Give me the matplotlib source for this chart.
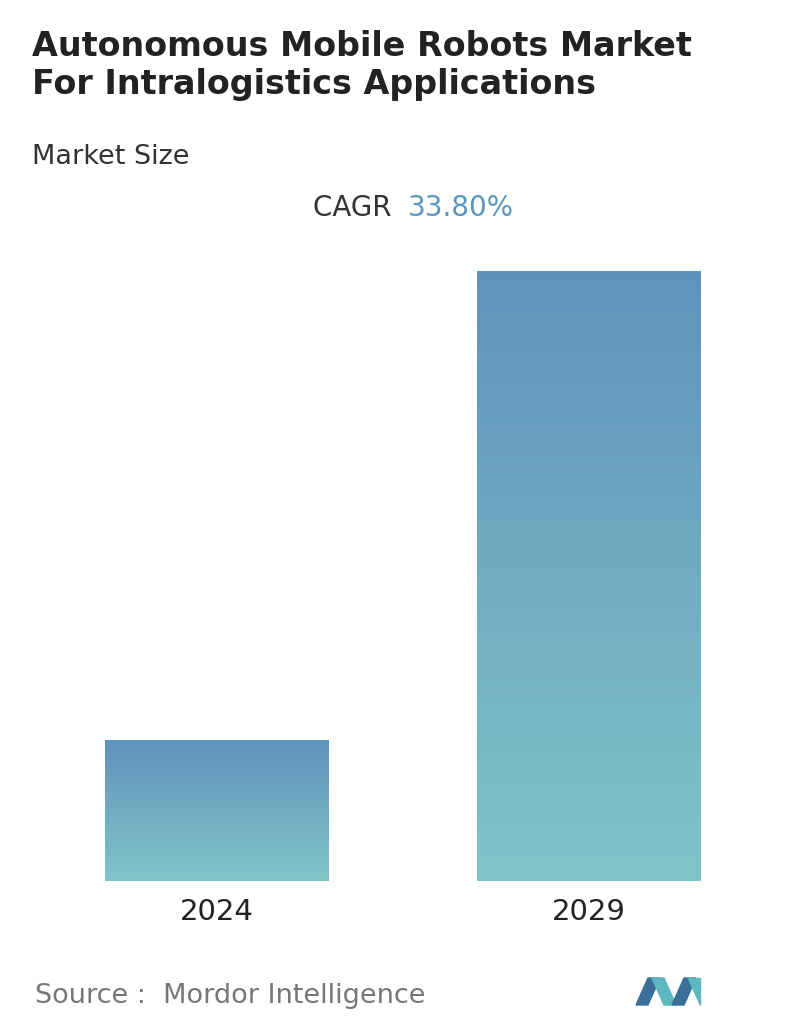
import numpy as np
import matplotlib
matplotlib.use("Agg")
import matplotlib.pyplot as plt
from matplotlib.patches import Polygon
from matplotlib.colors import LinearSegmentedColormap

years = ["2024", "2029"]
market_size = [1.0, 4.33]  # relative

W, H = 796, 1034
fig = plt.figure(figsize=(W / 100, H / 100), dpi=100)
fig.patch.set_facecolor("white")

ax = fig.add_axes([0, 1 - 881 / H, 1, (881 - 271) / H])
ax.axis("off")

cmap = LinearSegmentedColormap.from_list("grad", ["#80c4c9", "#6093bb"])
grad = np.linspace(0, 1, 256).reshape(-1, 1)
bars = ax.bar(range(len(years)), market_size, width=0.6, color="none")
for b in bars:
    x0, y0, w, h = b.get_x(), b.get_y(), b.get_width(), b.get_height()
    im = ax.imshow(grad, cmap=cmap, origin="lower", aspect="auto",
                   extent=[x0, x0 + w, y0, y0 + h], zorder=1)
    im.set_clip_path(b)
ax.set_xlim(-0.581, 1.555)
ax.set_ylim(0, max(market_size))

for i, yr in enumerate(years):
    ax.text(i, -0.12, yr, ha="center", va="top", fontsize=21, color="#222222")

fig.text(32 / W, 1 - 30 / H, "Autonomous Mobile Robots Market\nFor Intralogistics Applications",
         ha="left", va="top", fontsize=24, fontweight="bold", color="#222222", linespacing=1.2)
fig.text(32 / W, 1 - 157 / H, "Market Size", ha="left", va="center", fontsize=19.5, color="#333333")
fig.text(400 / W, 1 - 208 / H, "CAGR ", ha="right", va="center", fontsize=20, color="#333333")
fig.text(408 / W, 1 - 208 / H, "33.80%", ha="left", va="center", fontsize=20, color="#5b96bf")
fig.text(35 / W, 1 - 996 / H, "Source :  Mordor Intelligence", ha="left", va="center",
         fontsize=19.5, color="#777777")

# logo
def px(pts):
    return [(x / W, 1 - y / H) for x, y in pts]
fig.patches.append(Polygon(px([(636, 1005), (648, 978), (660, 978), (648, 1005)]),
                           closed=True, color="#3a6f9a", transform=fig.transFigure))
fig.patches.append(Polygon(px([(652, 978), (664, 978), (676, 1005), (664, 1005)]),
                           closed=True, color="#5bb7c0", transform=fig.transFigure))
fig.patches.append(Polygon(px([(672, 1005), (684, 978), (696, 978), (684, 1005)]),
                           closed=True, color="#3a6f9a", transform=fig.transFigure))
fig.patches.append(Polygon(px([(688, 978), (700, 978), (700, 1005)]),
                           closed=True, color="#5bb7c0", transform=fig.transFigure))

fig.savefig("out.png", dpi=100)
